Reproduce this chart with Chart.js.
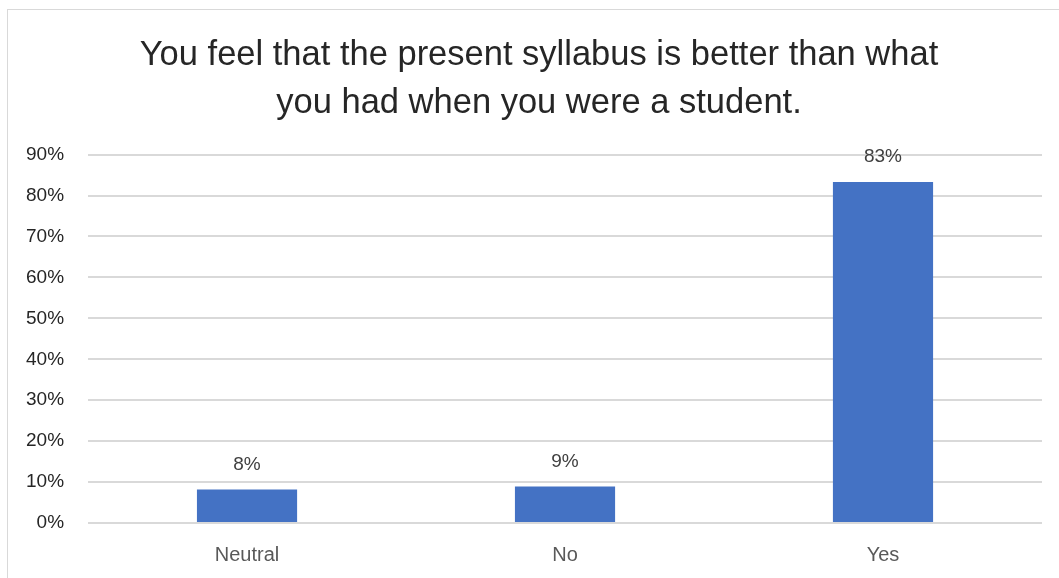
<!DOCTYPE html>
<html>
<head>
<meta charset="utf-8">
<script src="https://cdn.jsdelivr.net/npm/chart.js@4.4.1/dist/chart.umd.min.js"></script>
<style>
  html, body { margin: 0; padding: 0; background: #ffffff; overflow: hidden; }
  #frame { position: absolute; left: 7px; top: 9px; width: 1120px; height: 640px; border: 1px solid #d9d9d9; box-sizing: border-box; }
  #wrap { position: absolute; left: 0; top: 0; width: 1059px; height: 578px; }
</style>
</head>
<body>
<div id="frame"></div>
<div id="wrap"><canvas id="c" width="1059" height="578"></canvas></div>
<script>
const categories = ["Neutral", "No", "Yes"];
const values = [8.2, 8.9, 83.3];
const valueLabels = ["8%", "9%", "83%"];
const titleLines = ["You feel that the present syllabus is better than what", "you had when you were a student."];
const yMin = 0, yMax = 90, yStep = 10;

const barLabels = {
  id: 'barLabels',
  afterLayout(chart) {
    if (chart.titleBlock) {
      chart.titleBlock.left += 17;
      chart.titleBlock.right += 17;
    }
  },
  afterDatasetsDraw(chart) {
    const ctx = chart.ctx;
    const meta = chart.getDatasetMeta(0);
    ctx.save();
    ctx.font = '19px "Liberation Sans", Arial, sans-serif';
    ctx.fillStyle = '#404040';
    ctx.textAlign = 'center';
    ctx.textBaseline = 'middle';
    meta.data.forEach((bar, i) => {
      ctx.fillText(valueLabels[i], bar.x, bar.y - 25);
    });
    ctx.restore();
  }
};

new Chart(document.getElementById('c'), {
  type: 'bar',
  data: {
    labels: categories,
    datasets: [{
      data: values,
      backgroundColor: '#4472c4',
      borderWidth: 0,
      categoryPercentage: 1.0,
      barPercentage: 0.315
    }]
  },
  options: {
    responsive: false,
    animation: false,
    devicePixelRatio: 1,
    layout: { padding: { left: 2, right: 17, top: 31, bottom: -9 } },
    plugins: {
      legend: { display: false },
      tooltip: { enabled: false },
      title: {
        display: true,
        text: titleLines,
        color: '#262626',
        font: { family: '"Liberation Sans", Arial, sans-serif', size: 34.5, weight: 'normal', lineHeight: 1.4 },
        padding: { top: 0, bottom: 27 }
      }
    },
    scales: {
      x: {
        grid: { display: false, drawTicks: false },
        border: { display: false },
        ticks: { color: '#595959', font: { family: '"Liberation Sans", Arial, sans-serif', size: 20 }, padding: 20 }
      },
      y: {
        min: yMin, max: yMax,
        grid: { color: '#d9d9d9', lineWidth: 2, drawTicks: false },
        border: { display: false },
        ticks: {
          stepSize: yStep,
          color: '#262626',
          font: { family: '"Liberation Sans", Arial, sans-serif', size: 19 },
          padding: 24,
          callback: v => v + '%'
        }
      }
    }
  },
  plugins: [barLabels]
});
</script>
</body>
</html>
